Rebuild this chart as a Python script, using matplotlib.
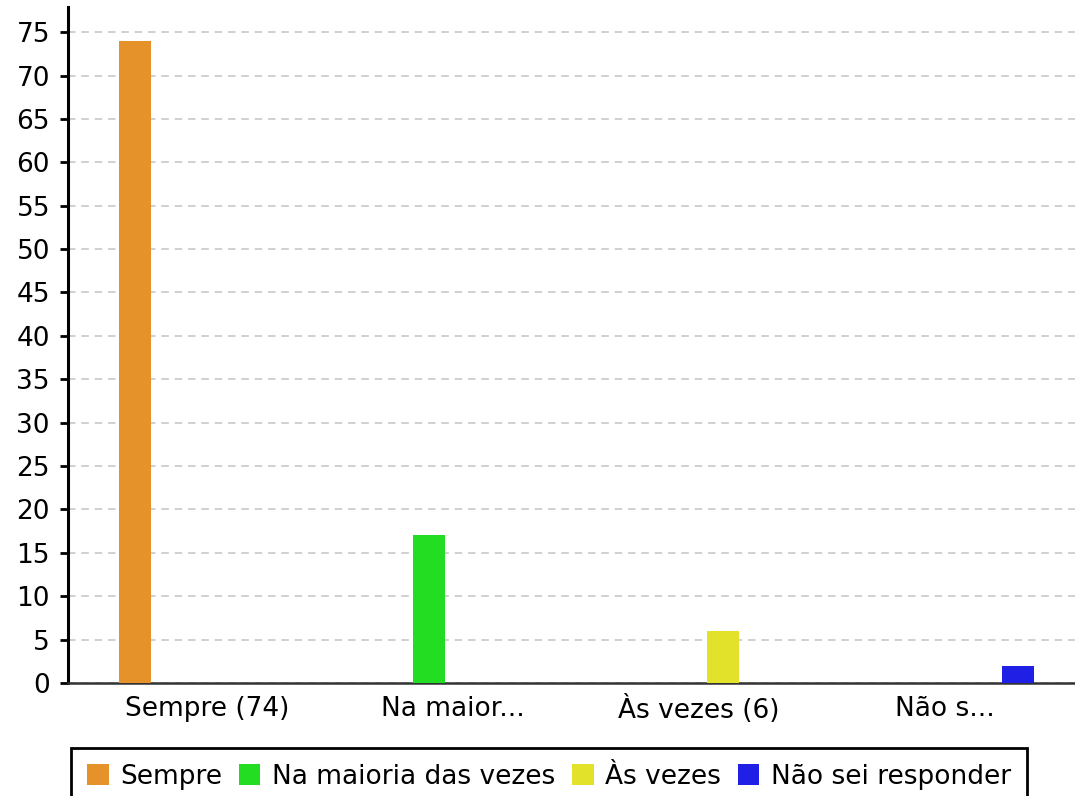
import matplotlib
matplotlib.use("Agg")
import matplotlib.pyplot as plt
import numpy as np

categories = ["Sempre (74)", "Na maior...", "Às vezes (6)", "Não s..."]
series_names = ["Sempre", "Na maioria das vezes", "Às vezes", "Não sei responder"]
values = [74, 17, 6, 2]
colors = ["#E6922A", "#22DD22", "#E2E22A", "#1F1FE6"]
yticks = list(range(0, 80, 5))

plt.rcParams['font.family'] = ['DejaVu Sans']
W, H = 1075, 796
fig = plt.figure(figsize=(W / 100, H / 100), dpi=100)
left, right, top, bottom = 68, 1075, 7, 683
ax = fig.add_axes([left / W, 1 - bottom / H, (right - left) / W, (bottom - top) / H])

x = np.arange(len(categories))
step = 0.197
width = 0.130
n = len(series_names)
for i, (name, v, c) in enumerate(zip(series_names, values, colors)):
    ax.bar(x[i] + (i - (n - 1) / 2) * step, v, width=width, color=c, label=name, zorder=3)

ax.set_xlim(-0.5675, 3.529)
ax.set_ylim(0, 77.9)
ax.set_yticks(yticks)
ax.set_xticks(x)
ax.set_xticklabels(categories)
ax.tick_params(axis='y', labelsize=19, length=6, width=2, pad=7)
ax.tick_params(axis='x', labelsize=19, length=0, pad=9)
ax.yaxis.grid(True, color="#c8c8c8", linestyle=(0, (4.5, 3.5)), linewidth=1.2, zorder=0)
ax.set_axisbelow(True)
for s in ["top", "right"]:
    ax.spines[s].set_visible(False)
ax.spines["left"].set_linewidth(2.2)
ax.spines["left"].set_color("black")
ax.spines["bottom"].set_linewidth(1.8)
ax.spines["bottom"].set_color("#333333")

leg = fig.legend(loc="upper center", bbox_to_anchor=(549 / W, 1 - 748 / H), ncol=4,
                 fontsize=19, frameon=True, fancybox=False, edgecolor="black",
                 framealpha=1,
                 handlelength=0.82, handleheight=0.82, handletextpad=0.44,
                 columnspacing=0.63, borderpad=0.6, borderaxespad=0)
leg.get_frame().set_linewidth(2)

fig.savefig("out.png", dpi=100)
